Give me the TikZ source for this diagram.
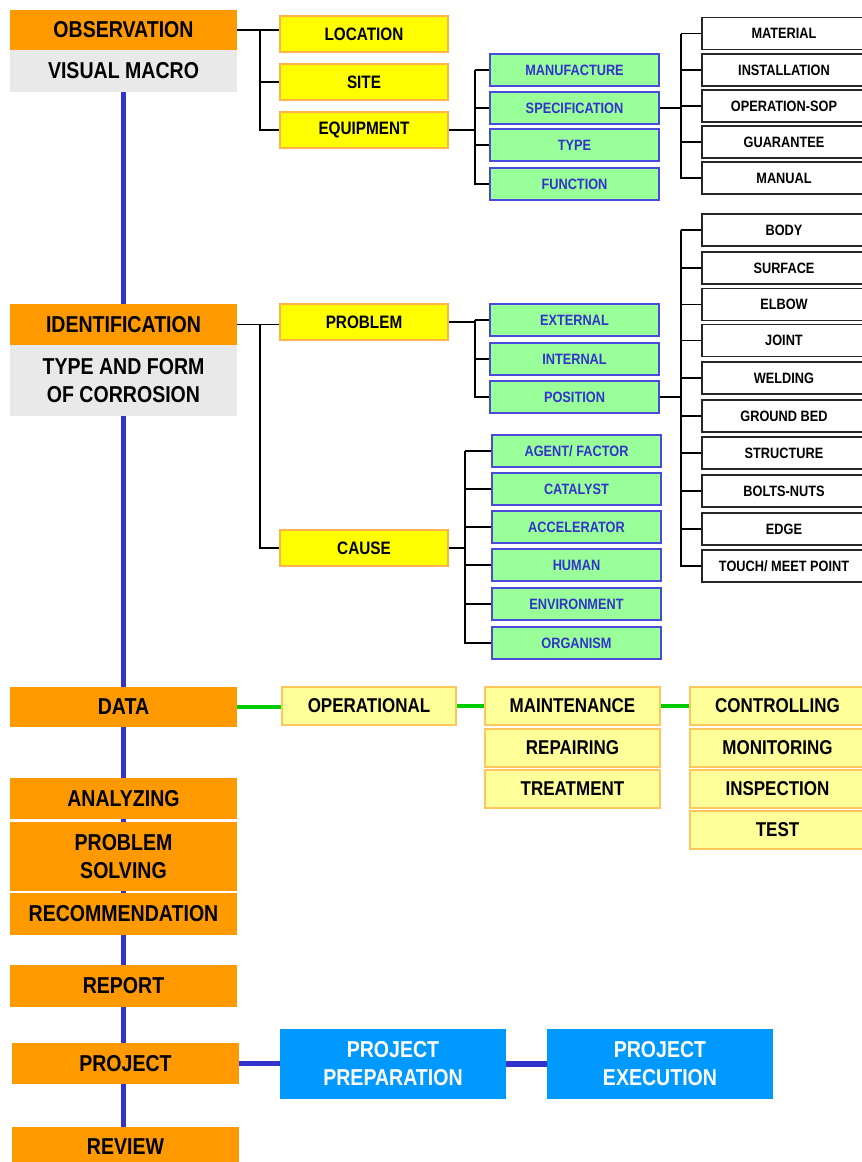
\documentclass[tikz,border=0pt]{standalone}
\usepackage{fontspec}
\setmainfont{Liberation Sans}[FakeStretch=0.85]
\usetikzlibrary{backgrounds}

\definecolor{orange1}{HTML}{FF9900}
\definecolor{gray1}{HTML}{E9E9E9}
\definecolor{blue1}{HTML}{3333CC}
\definecolor{blue2}{HTML}{0099FF}
\definecolor{yellow1}{HTML}{FFFF00}
\definecolor{yellow2}{HTML}{FFFF99}
\definecolor{yelline}{HTML}{FFB347}
\definecolor{datline}{HTML}{FFC65C}
\definecolor{green1}{HTML}{99FF99}
\definecolor{green2}{HTML}{00CC00}
\definecolor{grnline}{HTML}{4A4ADD}

\begin{document}
\begin{tikzpicture}[x=1pt,y=-1pt]
\tikzset{every node/.style={inner sep=0pt, align=center},
  mainbox/.style={fill=orange1, minimum width=227pt, minimum height=41pt,
    font=\fontsize{23}{28}\selectfont\bfseries},
  notebox/.style={mainbox, fill=gray1},
  yelbox/.style={draw=yelline, line width=1.5pt, fill=yellow1, minimum width=168pt,
    minimum height=36pt, font=\fontsize{18}{20}\selectfont\bfseries},
  grnbox/.style={draw=grnline, line width=1.5pt, fill=green1, text=blue1, minimum width=169pt,
    minimum height=32pt, font=\fontsize{15}{17}\selectfont\bfseries},
  whtbox/.style={draw=black!85, line width=1.5pt, fill=white, minimum width=164pt,
    minimum height=32pt, font=\fontsize{15}{17}\selectfont\bfseries},
  datbox/.style={draw=datline, line width=1.5pt, fill=yellow2, minimum width=175pt,
    minimum height=38pt, font=\fontsize{20}{22}\selectfont\bfseries},
  prjbox/.style={fill=blue2, text=white, minimum width=226pt, minimum height=70pt,
    font=\fontsize{23}{28}\selectfont\bfseries},
  tline/.style={line width=1.3pt},
  spine/.style={line width=5pt, draw=blue1},
  dline/.style={line width=4pt, draw=green2},
  pline/.style={line width=5.5pt, draw=blue1}}
\path[use as bounding box, clip] (0,0) rectangle (862,1162);

% main column
\node[mainbox] (obs) at (123.5,30) {OBSERVATION};
\node[notebox, minimum height=42pt] (visual) at (123.5,71) {VISUAL MACRO};
\node[mainbox] (ident) at (123.5,324.5) {IDENTIFICATION};
\node[notebox, minimum height=71pt] (typeform) at (123.5,380.5) {TYPE AND FORM\\OF CORROSION};
\node[mainbox, minimum height=40pt] (data) at (123.5,707) {DATA};
\node[mainbox] (analyz) at (123.5,798.5) {ANALYZING};
\node[mainbox, minimum height=69pt] (solving) at (123.5,856.5) {PROBLEM\\SOLVING};
\node[mainbox, minimum height=42pt] (recom) at (123.5,914) {RECOMMENDATION};
\node[mainbox, minimum height=42pt] (report) at (123.5,986) {REPORT};
\node[mainbox] (project) at (125.5,1063.5) {PROJECT};
\node[mainbox, minimum height=40pt] (review) at (125.5,1147) {REVIEW};
\begin{scope}[on background layer]
\draw[spine] (visual.south) -- (visual.south |- review.north);
\end{scope}

% observation
\node[yelbox] (location) at (364,34) {LOCATION};
\node[yelbox] (site) at (364,82) {SITE};
\node[yelbox] (equip) at (364,130) {EQUIPMENT};
\node[grnbox] (manuf) at (574.5,70) {MANUFACTURE};
\node[grnbox] (spec) at (574.5,108) {SPECIFICATION};
\node[grnbox] (type) at (574.5,145) {TYPE};
\node[grnbox] (func) at (574.5,184) {FUNCTION};
\node[whtbox] (material) at (784,33.5) {MATERIAL};
\node[whtbox] (install) at (784,70) {INSTALLATION};
\node[whtbox] (opsop) at (784,106) {OPERATION-SOP};
\node[whtbox] (guarant) at (784,142) {GUARANTEE};
\node[whtbox] (manual) at (784,178) {MANUAL};

% identification
\node[yelbox] (problem) at (364,322) {PROBLEM};
\node[yelbox] (cause) at (364,548) {CAUSE};
\node[grnbox] (external) at (574.5,320) {EXTERNAL};
\node[grnbox] (internal) at (574.5,359) {INTERNAL};
\node[grnbox] (position) at (574.5,397) {POSITION};
\node[grnbox] (agent) at (576.5,451) {AGENT/ FACTOR};
\node[grnbox] (catal) at (576.5,489) {CATALYST};
\node[grnbox] (accel) at (576.5,527) {ACCELERATOR};
\node[grnbox] (human) at (576.5,565) {HUMAN};
\node[grnbox] (envir) at (576.5,604) {ENVIRONMENT};
\node[grnbox] (organ) at (576.5,643) {ORGANISM};
\node[whtbox] (body) at (784,230) {BODY};
\node[whtbox] (surface) at (784,268) {SURFACE};
\node[whtbox] (elbow) at (784,304.5) {ELBOW};
\node[whtbox] (joint) at (784,340.5) {JOINT};
\node[whtbox] (welding) at (784,378) {WELDING};
\node[whtbox] (gbed) at (784,416) {GROUND BED};
\node[whtbox] (struct) at (784,453) {STRUCTURE};
\node[whtbox] (bolts) at (784,491) {BOLTS-NUTS};
\node[whtbox] (edge) at (784,529) {EDGE};
\node[whtbox] (touch) at (784,566) {TOUCH/ MEET POINT};

% data
\node[datbox, minimum width=174pt] (oper) at (369,706) {OPERATIONAL};
\node[datbox] (maint) at (572.5,706) {MAINTENANCE};
\node[datbox] (repair) at (572.5,748) {REPAIRING};
\node[datbox] (treat) at (572.5,789) {TREATMENT};
\node[datbox] (ctrl) at (777.5,706) {CONTROLLING};
\node[datbox] (monit) at (777.5,748) {MONITORING};
\node[datbox] (insp) at (777.5,789) {INSPECTION};
\node[datbox] (test) at (777.5,830) {TEST};

% project
\node[prjbox] (prep) at (393,1064) {PROJECT\\PREPARATION};
\node[prjbox] (exec) at (660,1064) {PROJECT\\EXECUTION};

% tree lines
\coordinate (b1) at (260,0);
\coordinate (b2) at (475,0);
\coordinate (b3) at (681,0);
\coordinate (b4) at (465,0);
\draw[tline] (obs.east) -- (obs.east -| location.west)
  (obs.east -| b1) |- (equip.west) (b1 |- site) -- (site.west);
\draw[tline] (equip.east) -- (equip.east -| b2)
  (b2 |- manuf) |- (func.west) (b2 |- manuf) -- (manuf.west)
  (b2 |- spec) -- (spec.west) (b2 |- type) -- (type.west);
\draw[tline] (spec.east) -- (spec.east -| b3)
  (b3 |- material) |- (manual.west) (b3 |- material) -- (material.west)
  (b3 |- install) -- (install.west) (b3 |- opsop) -- (opsop.west)
  (b3 |- guarant) -- (guarant.west);
\draw[tline] (ident.east) -- (ident.east -| problem.west)
  (ident.east -| b1) |- (cause.west);
\draw[tline] (problem.east) -- (problem.east -| b2)
  (b2 |- external) |- (position.west) (b2 |- external) -- (external.west)
  (b2 |- internal) -- (internal.west);
\draw[tline] (position.east) -- (position.east -| b3)
  (b3 |- body) |- (touch.west) (b3 |- body) -- (body.west)
  (b3 |- surface) -- (surface.west) (b3 |- elbow) -- (elbow.west)
  (b3 |- joint) -- (joint.west) (b3 |- welding) -- (welding.west)
  (b3 |- gbed) -- (gbed.west) (b3 |- struct) -- (struct.west)
  (b3 |- bolts) -- (bolts.west) (b3 |- edge) -- (edge.west);
\draw[tline] (cause.east) -- (cause.east -| b4)
  (b4 |- agent) |- (organ.west) (b4 |- agent) -- (agent.west)
  (b4 |- catal) -- (catal.west) (b4 |- accel) -- (accel.west)
  (b4 |- human) -- (human.west) (b4 |- envir) -- (envir.west);

% data and project links
\draw[dline] (data.east) -- (data.east -| oper.west);
\draw[dline] (oper.east) -- (oper.east -| maint.west);
\draw[dline] (maint.east) -- (maint.east -| ctrl.west);
\draw[pline] (project.east) -- (project.east -| prep.west);
\draw[pline] (prep.east) -- (exec.west);
\end{tikzpicture}
\end{document}
